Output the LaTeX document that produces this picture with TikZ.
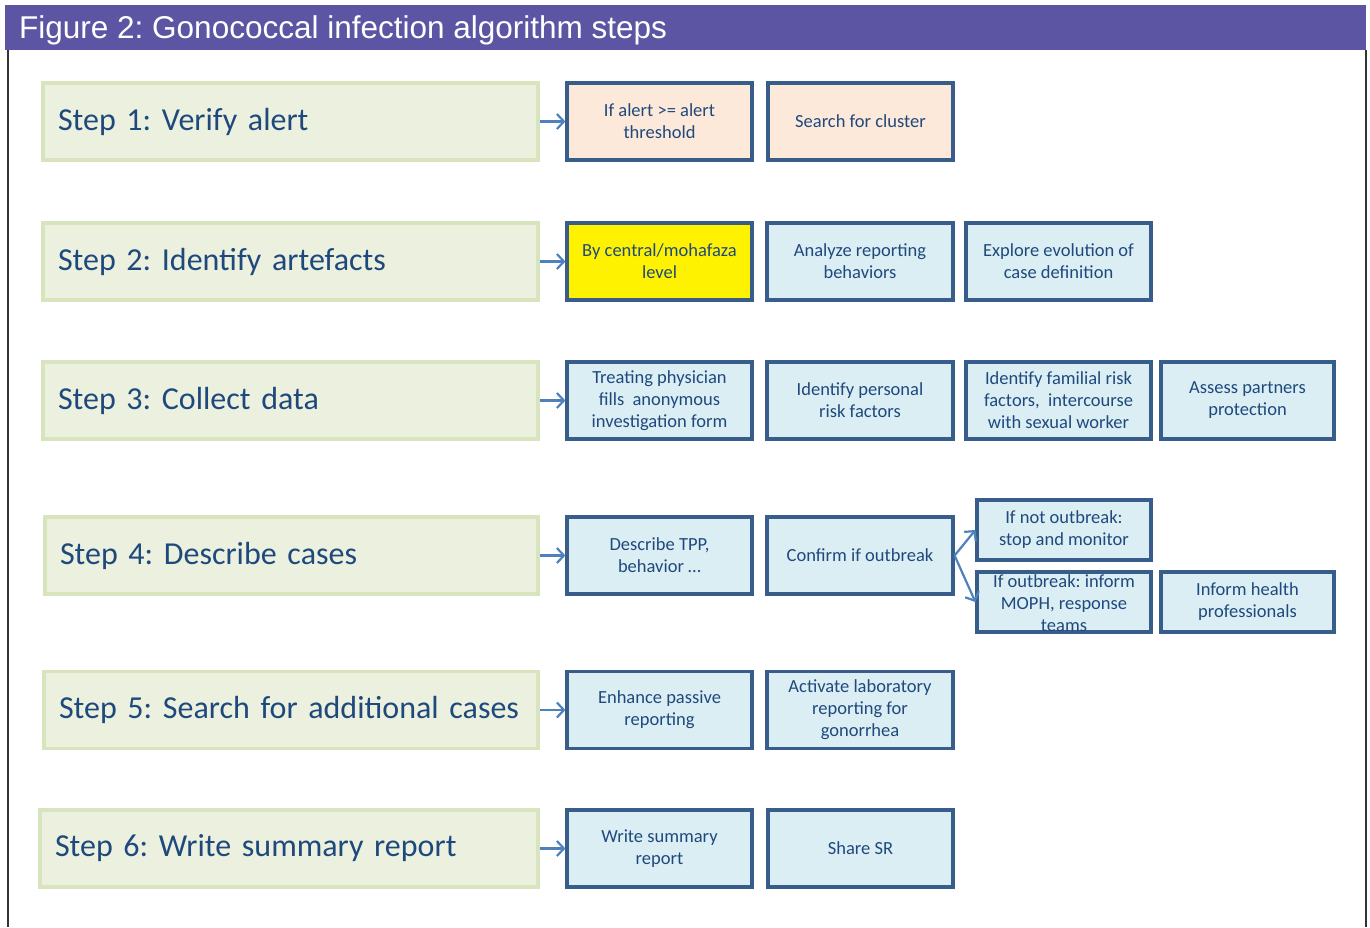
\documentclass[tikz,border=0pt]{standalone}
\usepackage{fontspec}
\setmainfont{Carlito}
\newfontfamily\titlefont{Liberation Sans}
\usetikzlibrary{arrows.meta}
\frenchspacing
\definecolor{stepfill}{HTML}{EBF1DE}
\definecolor{stepdraw}{HTML}{D7E4BD}
\definecolor{txtblue}{HTML}{1F497D}
\definecolor{boxdraw}{HTML}{385D8A}
\definecolor{boxblue}{HTML}{DBEEF4}
\definecolor{boxpeach}{HTML}{FDE9D9}
\definecolor{arrowblue}{HTML}{4F81BD}
\definecolor{titlebar}{HTML}{5C55A3}
\definecolor{frameline}{HTML}{333333}
\begin{document}
\begin{tikzpicture}[x=1pt,y=-1pt,
  stepbox/.style={draw=stepdraw, fill=stepfill, line width=3.4pt, rectangle,
    minimum height=77pt, inner xsep=15pt, inner ysep=0pt, align=left,
    text=txtblue, font=\fontsize{32}{38}\selectfont},
  subbox/.style={draw=boxdraw, fill=boxblue, line width=3.2pt, rectangle,
    minimum height=77pt, inner sep=0pt, align=center,
    text=txtblue, font=\fontsize{18.5}{22}\selectfont},
  link/.style={draw=arrowblue, line width=2.2pt, -{Straight Barb[length=7pt,width=15pt,line width=2.2pt]}}
]
\useasboundingbox (0,0) rectangle (1370,927);
% title bar and frame
\fill[titlebar] (5,5) rectangle (1366,50);
\node[anchor=west, text=white, font=\titlefont\fontsize{31.5}{36}\selectfont, inner sep=0pt] (title) at (19,30) {Figure 2: Gonococcal infection algorithm steps};
\coordinate (fl1) at (8,50); \coordinate (fl2) at (8,927);
\coordinate (fr1) at (1366,50); \coordinate (fr2) at (1366,927);
\draw[frameline, line width=2.2pt] (fl1) -- (fl2);
\draw[frameline, line width=2.2pt] (fr1) -- (fr2);

% step boxes
\node[stepbox, text width=465pt] (s1) at (290.5,121.5) {Step 1: Verify alert};
\node[stepbox, text width=465pt] (s2) at (290.5,261.5) {Step 2: Identify artefacts};
\node[stepbox, text width=465pt] (s3) at (290.5,400.5) {Step 3: Collect data};
\node[stepbox, text width=463pt] (s4) at (291.5,555.5) {Step 4: Describe cases};
\node[stepbox, text width=464pt] (s5) at (291,710) {Step 5: Search for additional cases};
\node[stepbox, text width=468pt] (s6) at (289,848.5) {Step 6: Write summary report};

% row 1
\node[subbox, fill=boxpeach, minimum width=185pt] (b11) at (659.5,121.5) {If alert >= alert\\threshold};
\node[subbox, fill=boxpeach, minimum width=185pt] (b12) at (860.5,121.5) {Search for cluster};
% row 2
\node[subbox, fill=yellow, minimum width=185pt] (b21) at (659.5,261.5) {By central/mohafaza\\level};
\node[subbox, minimum width=186pt] (b22) at (860,261.5) {Analyze reporting\\behaviors};
\node[subbox, minimum width=185pt] (b23) at (1058.5,261.5) {Explore evolution of\\case definition};
% row 3
\node[subbox, minimum width=185pt] (b31) at (659.5,400.5) {Treating physician\\fills\ \ anonymous\\investigation form};
\node[subbox, minimum width=186pt] (b32) at (860,400.5) {Identify personal\\risk factors};
\node[subbox, minimum width=185pt] (b33) at (1058.5,400.5) {Identify familial risk\\factors,\ \ intercourse\\with sexual worker};
\node[subbox, minimum width=173pt] (b34) at (1247.5,400.5) {Assess partners\\protection};
% row 4
\node[subbox, minimum width=185pt] (b41) at (659.5,555.5) {Describe TPP,\\behavior \dots};
\node[subbox, minimum width=186pt] (b42) at (860,555.5) {Confirm if outbreak};
\node[subbox, minimum width=174pt, minimum height=60pt] (b43) at (1064,530) {If not outbreak:\\stop and monitor};
\node[subbox, minimum width=174pt, minimum height=60pt] (b44) at (1064,602) {};
\node[text=txtblue, font=\fontsize{18.5}{22}\selectfont, align=center, inner sep=0pt] (b44t) at (1064,603) {If outbreak: inform\\MOPH, response\\teams};
\node[subbox, minimum width=173pt, minimum height=60pt] (b45) at (1247.5,602) {Inform health\\professionals};
% row 5
\node[subbox, minimum width=185pt] (b51) at (659.5,710) {Enhance passive\\reporting};
\node[subbox, minimum width=186pt] (b52) at (860,710) {Activate laboratory\\reporting for\\gonorrhea};
% row 6
\node[subbox, minimum width=185pt] (b61) at (659.5,848.5) {Write summary\\report};
\node[subbox, minimum width=185pt] (b62) at (860.5,848.5) {Share SR};

% arrows
\draw[link] (s1.east) -- (b11.west);
\draw[link] (s2.east) -- (b21.west);
\draw[link] (s3.east) -- (b31.west);
\draw[link] (s4.east) -- (b41.west);
\draw[link] (s5.east) -- (b51.west);
\draw[link] (s6.east) -- (b61.west);
\draw[link] (b42.east) -- (b43.west);
\draw[link] (b42.east) -- (b44.west);
\end{tikzpicture}
\end{document}
